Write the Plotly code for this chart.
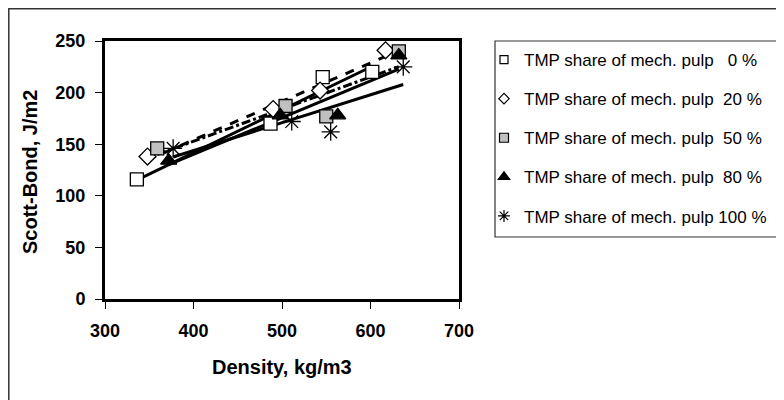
import numpy as np
import plotly.graph_objects as go

# ---- data ----
series_names = [
    "TMP share of mech. pulp   0 %",
    "TMP share of mech. pulp  20 %",
    "TMP share of mech. pulp  50 %",
    "TMP share of mech. pulp  80 %",
    "TMP share of mech. pulp 100 %",
]
density_0 = [336, 487, 546, 602]
bond_0 = [116, 170, 215, 220]
density_20 = [348, 490, 543, 617]
bond_20 = [138, 184, 202, 241]
density_50 = [359, 504, 550, 632]
bond_50 = [146, 187, 177, 240]
density_80 = [372, 498, 563, 632]
bond_80 = [134, 178, 178, 236]
density_100 = [377, 511, 555, 637]
bond_100 = [146, 172, 162, 225]

x_ticks = [300, 400, 500, 600, 700]
y_ticks = [0, 50, 100, 150, 200, 250]

xs = [density_0, density_20, density_50, density_80, density_100]
ys = [bond_0, bond_20, bond_50, bond_80, bond_100]

symbols = ["square", "diamond", "square", "triangle-up", "asterisk-open"]
fills = ["white", "white", "#c0c0c0", "black", "black"]
sizes = [13, 13, 13, 14, 15]
legend_sizes = [8, 8, 9, 10, 10]
dashes = ["solid", "dash", "dashdot", "solid", "solid"]

FONT = "Liberation Sans, Arial, sans-serif"
# page body has an 8px margin: figure is drawn at (8,8)
OFF = 8
W, H = 784 - OFF, 400 - OFF


def px(xp):
    return (xp - OFF) / W


def py(yp):
    return 1 - (yp - OFF) / H


fig = go.Figure()

# trend lines (linear least squares over each series' range)
for x, y, d in zip(xs, ys, dashes):
    k, b = np.polyfit(x, y, 1)
    xl = [min(x), max(x)]
    fig.add_trace(go.Scatter(
        x=xl, y=[k * v + b for v in xl], mode="lines",
        line=dict(color="black", width=3, dash=d),
        showlegend=False, hoverinfo="skip"))

# markers
for x, y, s, f, sz in zip(xs, ys, symbols, fills, sizes):
    fig.add_trace(go.Scatter(
        x=x, y=y, mode="markers", showlegend=False,
        marker=dict(symbol=s, size=sz, color=f,
                    line=dict(color="black", width=1.3))))

# legend entries
for i, (name, s, f, sz) in enumerate(zip(series_names, symbols, fills, legend_sizes)):
    fig.add_trace(go.Scatter(
        x=[None], y=[None], mode="markers", name=name,
        legendgroup=str(i),
        marker=dict(symbol=s, size=sz, color=f,
                    line=dict(color="black", width=1.2))))

x0, x1 = 105, 459
y_top, y_bot = 41, 299

fig.update_layout(
    width=W, height=H,
    margin=dict(l=0, r=0, t=0, b=0),
    paper_bgcolor="white", plot_bgcolor="white",
    font=dict(family=FONT, color="black"),
    xaxis=dict(
        domain=[px(x0), px(x1)], range=[300, 700],
        tickvals=x_ticks, ticks="outside", ticklen=7, tickwidth=1, tickcolor="black",
        ticklabelstandoff=6,
        tickfont=dict(size=18, family=FONT, weight="bold"),
        showgrid=False, zeroline=False,
        showline=True, linecolor="black", linewidth=3, mirror=True,
        automargin=False, title=dict(text=""),
    ),
    yaxis=dict(
        domain=[py(y_bot), py(y_top)], range=[0, 250],
        tickvals=y_ticks, ticks="outside", ticklen=7, tickwidth=1, tickcolor="black",
        ticklabelstandoff=6,
        tickfont=dict(size=18, family=FONT, weight="bold"),
        showgrid=False, zeroline=False,
        showline=True, linecolor="black", linewidth=3, mirror=True,
        automargin=False, title=dict(text=""),
    ),
    legend=dict(
        x=px(484), y=py(42), xanchor="left", yanchor="top",
        bgcolor="rgba(0,0,0,0)", borderwidth=0,
        font=dict(size=17, family=FONT, color="black"),
        tracegroupgap=14, itemclick=False,
    ),
    showlegend=True,
)

# axis titles
fig.add_annotation(text="<b>Density, kg/m3</b>", xref="paper", yref="paper",
                   x=px(282), y=py(367), xanchor="center", yanchor="middle",
                   showarrow=False,
                   font=dict(size=20, family=FONT, color="black"))
fig.add_annotation(text="<b>Scott-Bond, J/m2</b>", xref="paper", yref="paper",
                   x=px(30), y=py(172), xanchor="center", yanchor="middle",
                   showarrow=False, textangle=-90,
                   font=dict(size=20, family=FONT, color="black"))

# legend box and outer frame
fig.add_shape(type="rect", xref="paper", yref="paper",
              x0=px(495), x1=px(777), y0=py(237), y1=py(41),
              line=dict(color="#333333", width=1.2), fillcolor="rgba(0,0,0,0)")
fig.add_shape(type="rect", xref="paper", yref="paper",
              x0=px(8.8), x1=1.02, y0=-0.02, y1=py(8.8),
              line=dict(color="#333333", width=1.5), fillcolor="rgba(0,0,0,0)")

fig.write_html("out.html")
